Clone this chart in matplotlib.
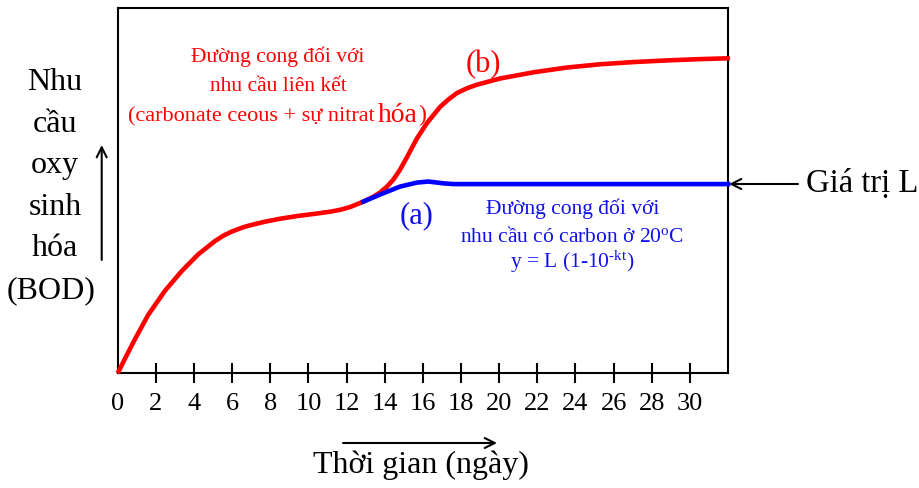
import matplotlib
matplotlib.use('Agg')
import matplotlib.pyplot as plt

plt.rcParams['font.family'] = ['Liberation Serif', 'DejaVu Serif']
plt.rcParams['mathtext.fontset'] = 'custom'
plt.rcParams['mathtext.rm'] = 'Liberation Serif'
plt.rcParams['mathtext.it'] = 'Liberation Serif:italic'

# ---- data ----
days_b = [0, 0.38, 0.91, 1.6, 2.48, 3.36, 4.23, 5.1, 5.55, 5.98, 6.59, 7.0, 7.72,
          8.5, 9.47, 10.4, 11.22, 11.7, 12.18, 12.88, 13.4, 13.75, 14.1, 14.45,
          14.8, 15.15, 15.68, 16.2, 16.9, 17.35, 17.78, 18.3, 18.83, 20.05,
          21.8, 23.55, 25.3, 27.04, 28.8, 30.5, 32.1]
bod_b = [0, 4.0, 9.4, 16.0, 22.6, 28.0, 32.6, 36.2, 37.7, 38.8, 40.0, 40.6, 41.5,
         42.3, 43.1, 43.7, 44.3, 44.8, 45.5, 47.0, 48.3, 49.5, 51.0, 53.0,
         55.7, 59.0, 64.2, 68.4, 72.9, 75.0, 76.7, 78.0, 79.0, 80.7,
         82.4, 83.7, 84.6, 85.2, 85.65, 86.0, 86.25]
days_a = [12.88, 13.93, 14.8, 15.68, 16.29, 17.07, 17.6, 32.0]
bod_a = [47.0, 49.3, 51.1, 52.2, 52.5, 52.0, 51.8, 51.8]
tick_days = list(range(0, 31, 2))
tick_labels = [str(d) for d in tick_days]
ylabel_lines = ["Nhu", "cầu", "oxy", "sinh", "hóa", "(BOD)"]

W, H = 920, 488
fig = plt.figure(figsize=(9.2, 4.88), dpi=100)


def P(x, y):
    return (x / W, 1 - y / H)


x0, y0 = P(117.7, 373.3)
x1, y1 = P(728, 8)
ax = fig.add_axes([x0, y0, x1 - x0, y1 - y0])

ax.plot(days_b, bod_b, color='#ff0000', lw=3.3, solid_capstyle='butt',
        solid_joinstyle='round', zorder=3, clip_on=False)
ax.plot(days_a, bod_a, color='#0000ff', lw=3.3, solid_joinstyle='round',
        zorder=4, clip_on=False)

ax.set_xlim(0, 32)
ax.set_ylim(0, 100)
ax.set_xticks(tick_days)
ax.set_xticklabels(tick_labels, fontsize=19)
ax.tick_params(axis='x', direction='inout', length=14, width=1.5, pad=7)
ax.xaxis.get_major_ticks()[0].tick1line.set_visible(False)
ax.set_yticks([])
for s in ax.spines.values():
    s.set_linewidth(1.5)

# ---- texts ----
for i, line in enumerate(ylabel_lines):
    cx = 51 if line == "(BOD)" else 55
    fig.text(*P(cx, 90 + i * 41.6), line, ha='center', va='baseline', fontsize=23)

fig.text(*P(421, 473), "Thời gian (ngày)", ha='center', va='baseline', fontsize=23)
fig.text(*P(806, 192), "Giá trị L", ha='left', va='baseline', fontsize=23.5)

red = '#ff0000'
blue = '#1010ee'
fs = 15.5
fig.text(*P(278, 62), "Đường cong đối với", ha='center', va='baseline',
         fontsize=fs, color=red)
fig.text(*P(278, 91), "nhu cầu liên kết", ha='center', va='baseline',
         fontsize=fs, color=red)
fig.text(*P(375, 121.5), "(carbonate ceous + sự nitrat", ha='right', va='baseline',
         fontsize=16, color=red)
fig.text(*P(378, 121.5), "hóa", ha='left', va='baseline', fontsize=20, color=red)
fig.text(*P(418, 121.5), ")", ha='left', va='baseline', fontsize=17, color=red)
fig.text(*P(483, 72), "(b)", ha='center', va='baseline', fontsize=22, color=red)

fig.text(*P(417, 223), "(a)", ha='center', va='baseline', fontsize=22, color=blue)
fig.text(*P(573, 214), "Đường cong đối với", ha='center', va='baseline',
         fontsize=fs, color=blue)
fig.text(*P(572, 242), "nhu cầu có carbon ở 20$^{\\mathrm{o}}$C", ha='center',
         va='baseline', fontsize=fs, color=blue)
fig.text(*P(572, 268), "y = L (1-10$^{\\text{-kt}}$)", ha='center',
         va='baseline', fontsize=fs, color=blue)

# ---- arrows ----
arrow_kw = dict(arrowstyle='->', lw=1.5, color='black',
                mutation_scale=18, shrinkA=0, shrinkB=0)
ax.annotate('', xy=P(101.7, 145), xytext=P(101.7, 260), xycoords='figure fraction',
            textcoords='figure fraction', arrowprops=arrow_kw, annotation_clip=False)
ax.annotate('', xy=P(497, 443), xytext=P(343, 443), xycoords='figure fraction',
            textcoords='figure fraction', arrowprops=arrow_kw, annotation_clip=False)
ax.annotate('', xy=P(729, 184), xytext=P(798, 184), xycoords='figure fraction',
            textcoords='figure fraction', arrowprops=arrow_kw, annotation_clip=False)

fig.savefig('out.png', dpi=100)
